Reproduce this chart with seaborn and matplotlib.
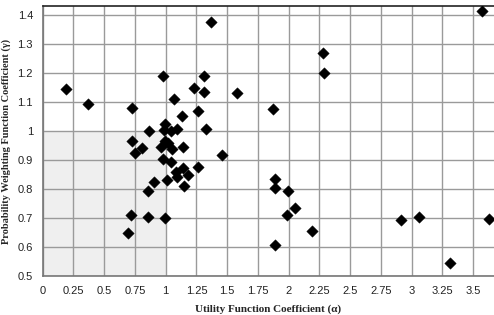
import matplotlib
matplotlib.use("Agg")
import matplotlib.pyplot as plt
import seaborn as sns
import pandas as pd
from matplotlib.patches import Rectangle

# Data
alpha = [0.19, 0.37, 0.73, 0.98, 1.37, 1.31, 1.23, 1.31, 1.07, 1.58,
         1.265, 1.135, 1.325, 0.867, 0.994, 0.986, 1.046, 1.089, 0.73, 0.75,
         0.805, 0.962, 0.994, 1.016, 1.054, 1.143, 1.46, 0.977, 1.043, 1.265,
         1.143, 1.08, 1.092, 1.182, 1.008, 1.145, 0.908, 0.855, 0.715, 0.856,
         0.997, 0.69, 1.89, 1.89, 1.997, 2.05, 1.99, 2.19, 1.89, 2.91,
         3.06, 3.31, 3.63, 3.57, 2.28, 2.29, 1.87]
gamma = [1.145, 1.095, 1.079, 1.189, 1.378, 1.191, 1.150, 1.136, 1.110, 1.131,
         1.071, 1.053, 1.006, 1.002, 1.023, 1.004, 1.000, 1.006, 0.966, 0.926,
         0.941, 0.945, 0.967, 0.958, 0.937, 0.946, 0.916, 0.905, 0.894, 0.875,
         0.872, 0.858, 0.842, 0.850, 0.830, 0.810, 0.823, 0.795, 0.711, 0.705,
         0.700, 0.648, 0.835, 0.805, 0.792, 0.736, 0.711, 0.655, 0.607, 0.692,
         0.705, 0.544, 0.696, 1.415, 1.270, 1.200, 1.076]

x_ticks = [0, 0.25, 0.5, 0.75, 1, 1.25, 1.5, 1.75, 2, 2.25, 2.5, 2.75, 3, 3.25, 3.5]
x_tick_labels = ["0", "0.25", "0.5", "0.75", "1", "1.25", "1.5", "1.75", "2",
                 "2.25", "2.5", "2.75", "3", "3.25", "3.5"]
y_ticks = [0.5, 0.6, 0.7, 0.8, 0.9, 1.0, 1.1, 1.2, 1.3, 1.4]
y_tick_labels = ["0.5", "0.6", "0.7", "0.8", "0.9", "1", "1.1", "1.2", "1.3", "1.4"]

df = pd.DataFrame({"alpha": alpha, "gamma": gamma})

sns.set_style("white")
plt.rcParams["font.family"] = ["Liberation Sans", "DejaVu Sans"]

fig = plt.figure(figsize=(4.94, 3.15), dpi=100)
ax = fig.add_axes([42.7 / 494, 39 / 315, (494 - 42.7) / 494, 270 / 315])

# shaded region
ax.add_patch(Rectangle((0, 0.5), 1, 0.5, facecolor="#efefef", edgecolor="none",
                       zorder=0))

sns.scatterplot(data=df, x="alpha", y="gamma", marker="D", color="black",
                s=34, edgecolor="black", linewidth=0.3, ax=ax, zorder=3)

ax.set_xlim(0, 3.67)
ax.set_ylim(0.5, 1.432)
ax.set_xticks(x_ticks)
ax.set_xticklabels(x_tick_labels)
ax.set_yticks(y_ticks)
ax.set_yticklabels(y_tick_labels)
ax.grid(True, color="#9a9a9a", linewidth=1.0, zorder=1)
ax.set_axisbelow(True)

ax.tick_params(axis="both", labelsize=8, colors="#222222", length=4,
               width=0.8, direction="inout", pad=5)
ax.tick_params(axis="both", color="#777777")

for side in ["left", "bottom"]:
    ax.spines[side].set_color("#777777")
    ax.spines[side].set_linewidth(1.2)
ax.spines["top"].set_color("#222222")
ax.spines["top"].set_linewidth(1.2)
ax.spines["right"].set_visible(False)

ax.set_xlabel("Utility Function Coefficient (\u03b1)", fontsize=8,
              fontweight="bold", family=["Liberation Serif", "DejaVu Serif"],
              labelpad=6)
ax.set_ylabel("")
fig.text(6.5 / 494, 1 - 141 / 315,
         "Probability Weighting Function Coefficient (\u03b3)",
         rotation=90, fontsize=7.5, fontweight="bold",
         family=["Liberation Serif", "DejaVu Serif"], va="center", ha="center")

fig.savefig("out.png", dpi=100)
